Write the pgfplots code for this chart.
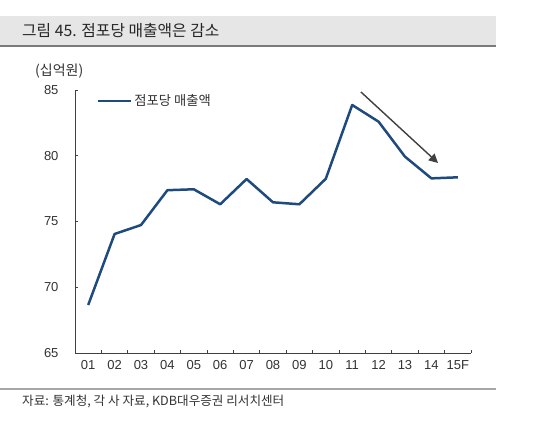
\documentclass[border=0pt]{standalone}
\usepackage{pgfplots}
\pgfplotsset{compat=1.18}
\usetikzlibrary{arrows.meta}
\usepackage{fontspec}
\setmainfont{Liberation Sans}
\newfontfamily\kr{Noto Sans CJK KR}
\definecolor{lineblue}{HTML}{1F4A7E}
\definecolor{axisgray}{HTML}{404040}
\definecolor{bandgray}{HTML}{E6E6E6}
\definecolor{bandline}{HTML}{7A7A7A}
\definecolor{rulegray}{HTML}{A6A6A6}
\definecolor{txt}{HTML}{333333}
\begin{document}
\begin{tikzpicture}[x=1pt,y=1pt]
\path[fill=white,use as bounding box] (0,0) rectangle (550,-430);
% title band
\fill[bandgray] (0,-16) rectangle (496,-46);
\fill[bandline] (0,-45) rectangle (496,-47.5);
\node[anchor=west,inner sep=0pt,text=black!85] at (22,-31) {\kr\fontsize{15.8}{18}\selectfont 그림 45. 점포당 매출액은 감소};
% unit label
\node[anchor=west,inner sep=0pt,text=txt] at (35,-71) {\kr\fontsize{14}{16}\selectfont (십억원)};
% source rule and text
\fill[rulegray] (0,-388.3) rectangle (496,-389.8);
\node[anchor=west,inner sep=0pt,text=txt] at (22,-401) {\kr\fontsize{12.6}{14}\selectfont 자료: 통계청, 각 사 자료, KDB대우증권 리서치센터};
\begin{axis}[
  at={(75pt,-353pt)}, anchor=south west,
  scale only axis, width=396pt, height=263pt,
  xmin=-0.5, xmax=14.5, ymin=65, ymax=85,
  axis x line*=bottom, axis y line*=left,
  axis line style={-, color=axisgray, line width=0.9pt},
  xtick={0,...,14},
  xticklabels={01,02,03,04,05,06,07,08,09,10,11,12,13,14,15F},
  minor xtick={-0.5,0.5,...,14.5},
  ytick={65,70,75,80,85},
  tick align=inside,
  major tick length=3pt, minor tick length=3pt,
  major x tick style={draw=none},
  tick style={color=axisgray, line width=0.8pt},
  minor tick style={color=axisgray, line width=0.8pt},
  tick label style={font=\fontsize{13}{15}\selectfont, text=txt},
  /pgf/number format/assume math mode=true,
  xticklabel style={yshift=-4pt},
  yticklabel style={xshift=-13pt},
  clip=false,
  legend style={at={(axis description cs:0.055,0.958)}, anchor=west, draw=none, fill=none, inner sep=0pt,
    font=\kr\fontsize{13.3}{15}\selectfont, text=txt},
  legend image code/.code={\draw[#1] (0pt,0pt)--(33pt,0pt);},
  legend cell align=left,
]
\addplot[color=lineblue, line width=2.5pt, line join=round, mark=none] coordinates {
(0,68.65) (1,74.05) (2,74.73) (3,77.38) (4,77.45) (5,76.31) (6,78.23) (7,76.46)
(8,76.31) (9,78.25) (10,83.86) (11,82.59) (12,79.93) (13,78.28) (14,78.36)
};
\addlegendentry{점포당 매출액}
\draw[-{Triangle[length=9pt,width=9pt]}, color=axisgray, line width=1.4pt] (axis cs:10.33,84.85) -- (axis cs:13.25,79.45);
\end{axis}
\end{tikzpicture}
\end{document}
